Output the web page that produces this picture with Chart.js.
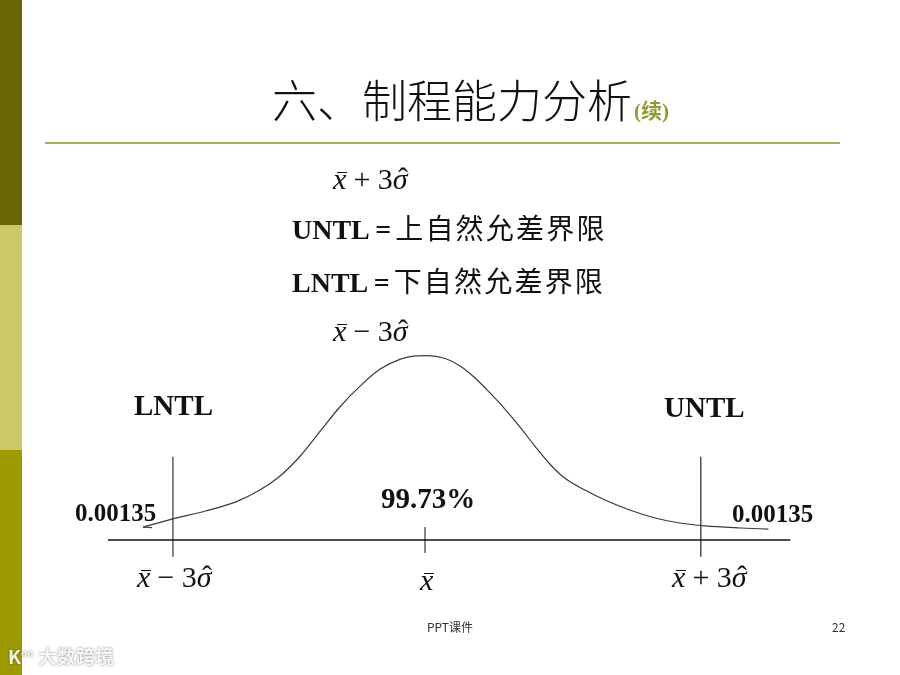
<!DOCTYPE html>
<html>
<head>
<meta charset="utf-8">
<script src="https://cdn.jsdelivr.net/npm/chart.js@4"></script>
<style>
  body { margin: 0; background: #fff; }
  #slide { position: relative; width: 900px; height: 675px; overflow: hidden; background: #fff; }
  .side { position: absolute; left: 0; width: 22px; }
  .t { position: absolute; white-space: nowrap; line-height: 1; }
  .title { font-family: "Noto Sans CJK SC"; font-weight: 300; font-size: 45px; color: #111; }
  .title .cont { font-family: "Liberation Serif", "Noto Sans CJK SC"; font-weight: bold; font-size: 21px; color: #929a36; margin-left: 2px; }
  .def { font-size: 28px; color: #111; }
  .def b { font-family: "Liberation Serif"; }
  .def .cn { font-family: "Noto Sans CJK SC"; font-weight: 400; letter-spacing: 2.2px; margin-left: 4px; }
  .lab { font-family: "Liberation Serif"; font-weight: bold; color: #111; }
  .m { font-family: "Liberation Serif"; font-size: 30px; color: #111; }
  .m i { position: relative; font-style: italic; }
  .m .bar::before { content: ""; position: absolute; left: 0.14em; right: -0.02em; top: 0.33em; border-top: 1.4px solid #111; }
  .m .hat::before { content: "\02C6"; position: absolute; left: 0.18em; top: 0.02em; font-style: normal; }
  .m .op { margin: 0 0.24em; }
  .foot { font-family: "Noto Sans CJK SC"; font-size: 12px; color: #333; }
  .mark { font-family: "Noto Sans CJK SC"; font-weight: bold; font-size: 19px; color: rgba(255,255,255,0.92);
          text-shadow: 0 0 2px rgba(0,0,0,0.55); }
</style>
</head>
<body>
<div id="slide">
  <div class="side" style="top:0;height:225px;background:#686603"></div>
  <div class="side" style="top:225px;height:225px;background:#cbc866"></div>
  <div class="side" style="top:450px;height:225px;background:#9c9a00"></div>
  <div style="position:absolute;left:45px;top:142px;width:795px;height:2px;background:#a3b35a"></div>

  <canvas id="bell" width="900" height="675" style="position:absolute;left:0;top:0"></canvas>

  <div class="t title" style="left:272px;top:76px">六、制程能力分析<span class="cont">(续)</span></div>

  <div class="t m" style="left:333px;top:164px"><i class="bar">x</i><span class="op">+</span>3<i class="hat">σ</i></div>
  <div class="t def" style="left:292px;top:213px"><b>UNTL =</b><span class="cn">上自然允差界限</span></div>
  <div class="t def" style="left:292px;top:266px"><b>LNTL =</b><span class="cn">下自然允差界限</span></div>
  <div class="t m" style="left:333px;top:316px"><i class="bar">x</i><span class="op">−</span>3<i class="hat">σ</i></div>

  <div class="t lab" style="left:134px;top:391px;font-size:29px">LNTL</div>
  <div class="t lab" style="left:664px;top:393px;font-size:29px">UNTL</div>
  <div class="t lab" style="left:75px;top:500px;font-size:25px">0.00135</div>
  <div class="t lab" style="left:732px;top:501px;font-size:25px">0.00135</div>
  <div class="t lab" style="left:381px;top:484px;font-size:29px">99.73%</div>

  <div class="t m" style="left:137px;top:562px"><i class="bar">x</i><span class="op">−</span>3<i class="hat">σ</i></div>
  <div class="t m" style="left:420px;top:565px"><i class="bar">x</i></div>
  <div class="t m" style="left:672px;top:562px"><i class="bar">x</i><span class="op">+</span>3<i class="hat">σ</i></div>

  <div class="t foot" style="left:427px;top:621px">PPT课件</div>
  <div class="t foot" style="left:832px;top:621px">22</div>
  <div class="t mark" style="left:8px;top:646px">K<sup style="font-size:10px">oo</sup> 大数跨境</div>
</div>

<script>
// 横轴以 σ 为单位，均值 x̄ 在 0；纵轴为相对高度（峰值 ≈ 1）
const curveX = [-3.21, -2.87, -2.50, -2.16, -1.88, -1.65, -1.42, -1.20, -0.97, -0.74,
                -0.51, -0.28, -0.11, 0.03, 0.23, 0.40, 0.57, 0.74, 0.91, 1.08,
                1.25, 1.42, 1.59, 1.82, 2.05, 2.33, 2.62, 2.90, 3.19, 3.59, 3.91];
const curveY = [0.070, 0.114, 0.157, 0.205, 0.270, 0.346, 0.454, 0.584, 0.719, 0.832,
                0.924, 0.978, 0.995, 0.997, 0.981, 0.941, 0.876, 0.795, 0.708, 0.611,
                0.508, 0.411, 0.335, 0.270, 0.216, 0.162, 0.119, 0.092, 0.076, 0.065, 0.059];

// LNTL、x̄、UNTL 的位置
const limitX = [-2.87, 3.14];
const meanX = 0;
const axisRange = [-3.61, 4.16];
const limitLineY = [-0.09, 0.45];
const meanTickY = [-0.07, 0.07];

function segment(x0, y0, x1, y1) {
  return [{ x: x0, y: y0 }, { x: x1, y: y1 }];
}

// 曲线左端的小箭头
const arrowTip = {
  id: 'arrowTip',
  afterDatasetsDraw(chart) {
    const pt = chart.getDatasetMeta(0).data[0];
    const ctx = chart.ctx;
    ctx.save();
    ctx.strokeStyle = '#444';
    ctx.lineWidth = 1.2;
    ctx.beginPath();
    ctx.moveTo(pt.x, pt.y);
    ctx.lineTo(pt.x + 9, pt.y + 0.5);
    ctx.stroke();
    ctx.restore();
  }
};

const datasets = [
  {
    data: curveX.map((x, i) => ({ x: x, y: curveY[i] })),
    borderColor: '#3a3a3a',
    borderWidth: 1.2,
    cubicInterpolationMode: 'monotone'
  },
  {
    data: segment(axisRange[0], 0, axisRange[1], 0),
    borderColor: '#111',
    borderWidth: 1.6
  },
  {
    data: segment(limitX[0], limitLineY[0], limitX[0], limitLineY[1]),
    borderColor: '#666',
    borderWidth: 1.6
  },
  {
    data: segment(limitX[1], limitLineY[0], limitX[1], limitLineY[1]),
    borderColor: '#444',
    borderWidth: 1.4
  },
  {
    data: segment(meanX, meanTickY[0], meanX, meanTickY[1]),
    borderColor: '#333',
    borderWidth: 1.2
  }
];
datasets.forEach(d => { d.showLine = true; d.pointRadius = 0; d.fill = false; });

new Chart(document.getElementById('bell'), {
  type: 'scatter',
  data: { datasets: datasets },
  options: {
    responsive: false,
    animation: false,
    layout: { padding: 0 },
    plugins: { legend: { display: false }, tooltip: { enabled: false } },
    scales: {
      x: { type: 'linear', display: false, min: -4.839, max: 5.408 },
      y: { type: 'linear', display: false, min: -0.7297, max: 2.9189 }
    }
  },
  plugins: [arrowTip]
});
</script>
</body>
</html>
